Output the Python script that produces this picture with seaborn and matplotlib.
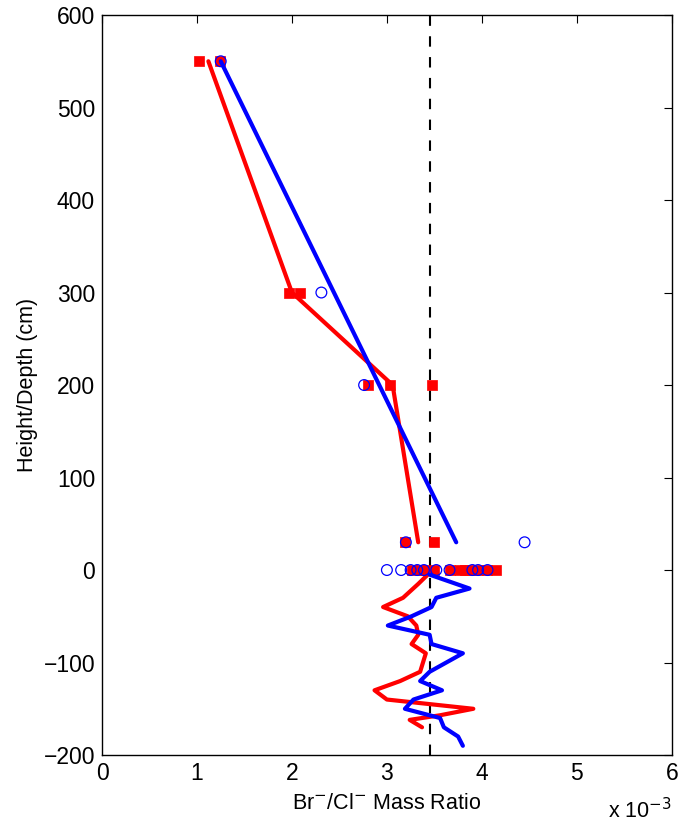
import numpy as np
import pandas as pd
import seaborn as sns
import matplotlib.pyplot as plt

# Br/Cl ratio values in units of 1e-3
red_line_x = [1.12, 2.00, 3.06, 3.33]
red_line_y = [550, 300, 200, 30]
blue_line_x = [1.25, 3.73]
blue_line_y = [550, 30]

red_low_x = [3.43, 3.33, 3.17, 2.96, 3.22, 3.31, 3.33, 3.26, 3.41, 3.35, 3.14, 2.87, 3.00, 3.91, 3.56, 3.24, 3.37]
red_low_y = [-5, -15, -30, -40, -50, -60, -70, -80, -90, -110, -120, -130, -140, -150, -157, -162, -170]
blue_low_x = [3.45, 3.87, 3.52, 3.47, 3.26, 3.01, 3.45, 3.47, 3.80, 3.45, 3.35, 3.58, 3.28, 3.19, 3.56, 3.60, 3.75, 3.80]
blue_low_y = [-5, -20, -30, -40, -50, -60, -70, -80, -90, -110, -120, -130, -140, -150, -160, -170, -180, -190]

red_pts_x = [1.02, 1.24, 1.97, 2.08, 2.80, 3.03, 3.48, 3.19, 3.50,
             3.26, 3.35, 3.39, 3.50, 3.66, 3.77, 3.82, 3.87, 3.96, 4.05, 4.15]
red_pts_y = [550, 550, 300, 300, 200, 200, 200, 30, 30,
             0, 0, 0, 0, 0, 0, 0, 0, 0, 0, 0]
blue_pts_x = [1.25, 2.31, 2.76, 3.20, 4.45,
              3.00, 3.15, 3.25, 3.32, 3.39, 3.52, 3.66, 3.90, 3.96, 4.06]
blue_pts_y = [550, 300, 200, 30, 30,
              0, 0, 0, 0, 0, 0, 0, 0, 0, 0]

mean_ratio = 3.45

sns.set_style("white")
plt.rcParams['font.family'] = ['Liberation Sans', 'DejaVu Sans']
plt.rcParams['text.color'] = "black"
plt.rcParams['axes.labelcolor'] = "black"
plt.rcParams['xtick.color'] = "black"
plt.rcParams['ytick.color'] = "black"

fig = plt.figure(figsize=(6.82, 8.25), dpi=100)
ax = fig.add_axes([0.1496, 0.0848, 0.8354, 0.897])

ax.axvline(mean_ratio, color="black", linestyle=(0, (5, 5)), linewidth=1.5, zorder=1)

for xs, ys, c in [(red_line_x, red_line_y, "#ff0000"), (blue_line_x, blue_line_y, "#0000ff"),
                  (red_low_x, red_low_y, "#ff0000"), (blue_low_x, blue_low_y, "#0000ff")]:
    df = pd.DataFrame({"ratio": xs, "depth": ys})
    sns.lineplot(data=df, x="ratio", y="depth", sort=False, estimator=None,
                 color=c, linewidth=3, ax=ax, zorder=3)

sns.scatterplot(x=red_pts_x, y=red_pts_y, marker="s", s=48, color="#ff0000",
                edgecolor="#ff0000", linewidth=0.5, ax=ax, zorder=2)
sns.scatterplot(x=blue_pts_x, y=blue_pts_y, marker="o", s=60, facecolor="none",
                edgecolor="#0000ff", linewidth=0.9, ax=ax, zorder=4)

ax.set_xlim(0, 6)
ax.set_ylim(-200, 600)
ax.set_xticks(range(0, 7))
ax.set_yticks(range(-200, 601, 100))
ax.set_yticklabels([str(v).replace("-", "\u2212") for v in range(-200, 601, 100)])
ax.tick_params(direction="in", length=6, width=0.8, labelsize=16.5, top=True, right=True,
               pad=5)
for sp in ax.spines.values():
    sp.set_linewidth(1.0)
    sp.set_color("black")

ax.set_xlabel("Br$^{-}$/Cl$^{-}$ Mass Ratio", fontsize=15.5, labelpad=6)
ax.set_ylabel("Height/Depth (cm)", fontsize=15.5, labelpad=4)
ax.text(1.0, -0.058, "x 10$^{-3}$", transform=ax.transAxes, ha="right", va="top", fontsize=15.5)

fig.savefig("out.png", dpi=100)
